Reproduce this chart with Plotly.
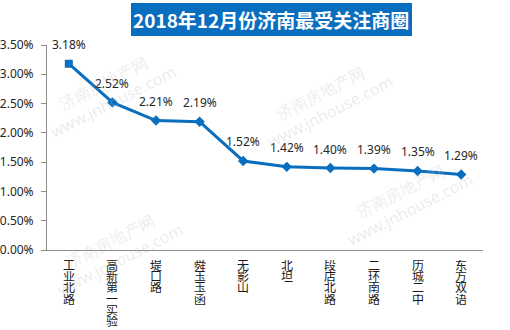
import plotly.graph_objects as go

# Most-watched business districts in Jinan, December 2018
districts = ["工业北路", "高新第一实验", "堤口路", "舜玉玉函", "无影山",
             "北坦", "段店北路", "二环南路", "历城二中", "东方双语"]
attention = [0.0318, 0.0252, 0.0221, 0.0219, 0.0152,
             0.0142, 0.0140, 0.0139, 0.0135, 0.0129]
y_ticks = [0, 0.005, 0.01, 0.015, 0.02, 0.025, 0.03, 0.035]

BLUE = "#0a6ebf"
CJK = "Noto Sans CJK SC"

fig = go.Figure()
fig.add_trace(go.Scatter(
    x=districts, y=attention, mode="lines+markers",
    line=dict(color=BLUE, width=3),
    marker=dict(color=BLUE, size=8,
                symbol=["square"] + ["diamond"] * (len(districts) - 1)),
    hoverinfo="skip", showlegend=False,
))

annotations = []
# value labels above each point
for d, v in zip(districts, attention):
    annotations.append(dict(
        x=d, y=v, xref="x", yref="y", text=f"{v * 100:.2f}%",
        xanchor="center", yanchor="middle",
        showarrow=False, yshift=19, font=dict(family="Noto Sans", size=12, color="#262626"),
    ))

# category names written vertically, one character per line
CHAR_PITCH = 11.2
for d in districts:
    for i, ch in enumerate(d):
        annotations.append(dict(
            x=d, y=0, xref="x", yref="paper", xanchor="center", yanchor="top",
            text=ch, showarrow=False, height=CHAR_PITCH, borderpad=0,
            yshift=-(9 + i * CHAR_PITCH),
            font=dict(family="Liberation Sans, " + CJK, size=12, color="#1a1a1a"),
        ))

# title banner text
annotations.append(dict(
    x=(271 - 47) / 436, y=(250 - 19.5) / 205, xref="paper", yref="paper",
    xanchor="center", yanchor="middle",
    text="<b>2018年12月份济南最受关注商圈</b>", showarrow=False,
    font=dict(family=CJK, size=19, color="white"),
))

# site watermark
for cx, cy in [(108, 92), (325, 102), (405, 200), (115, 250)]:
    annotations.append(dict(
        x=(cx - 47) / 436, y=(250 - cy) / 205, xref="paper", yref="paper",
        xanchor="center", yanchor="middle",
        text="济南房地产网<br>www.jnhouse.com", showarrow=False, textangle=-27,
        font=dict(family="Noto Sans", size=16, color="rgba(185,185,185,0.28)"),
    ))

fig.update_layout(
    width=510, height=330,
    margin=dict(l=47, r=27, t=45, b=80, autoexpand=False),
    paper_bgcolor="white", plot_bgcolor="white",
    font=dict(family="Noto Sans", color="#262626"),
    shapes=[dict(type="rect", xref="paper", yref="paper",
                 x0=(131 - 47) / 436, x1=(412 - 47) / 436,
                 y0=(250 - 36) / 205, y1=(250 - 3) / 205,
                 fillcolor=BLUE, line=dict(width=0), layer="below")],
    annotations=annotations,
    xaxis=dict(
        type="category", showticklabels=False, showgrid=False,
        showline=True, linecolor="#8c8c8c", linewidth=1,
        ticks="", range=[-0.5, len(districts) - 0.5], automargin=False,
    ),
    yaxis=dict(
        range=[0, 0.035], tickvals=y_ticks, tickformat=".2%",
        showgrid=False, zeroline=False, automargin=False,
        showline=True, linecolor="#8c8c8c", linewidth=1,
        ticks="outside", ticklen=5, tickcolor="#8c8c8c",
        ticklabelstandoff=5,
        tickfont=dict(family="Noto Sans", size=12, color="#262626"),
    ),
)

fig.write_html("out.html")
